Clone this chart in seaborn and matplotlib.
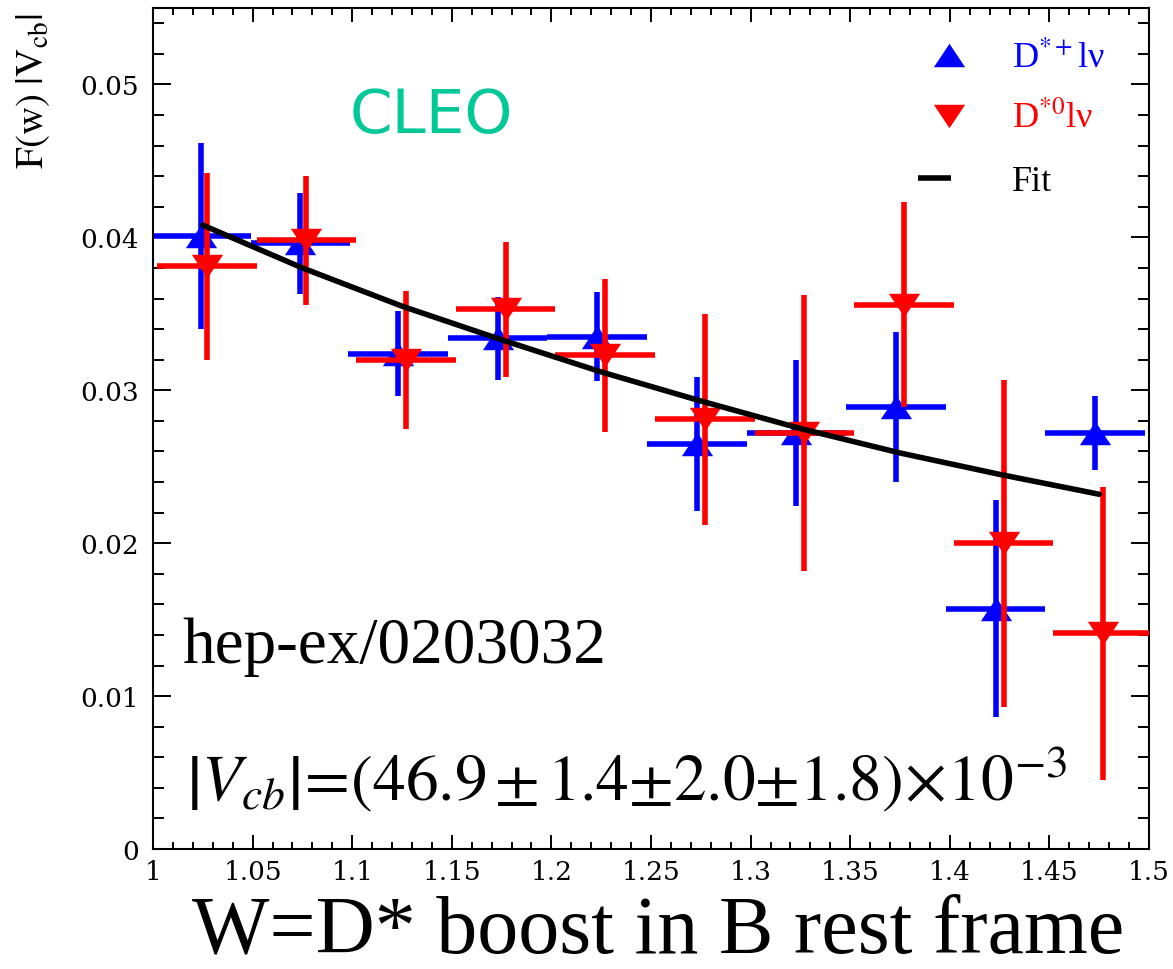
import matplotlib
matplotlib.use("Agg")
import matplotlib.pyplot as plt
import pandas as pd
import seaborn as sns
from matplotlib.ticker import MultipleLocator, FuncFormatter

# F(w)|Vcb| per w bin, B -> D*+ l nu
w_charged = [1.024, 1.074, 1.123, 1.173, 1.223, 1.273, 1.323, 1.373, 1.423, 1.473]
f_charged = [0.0401, 0.0396, 0.0324, 0.0334, 0.0335, 0.0265, 0.0272, 0.0289, 0.0157, 0.0272]
err_charged = [0.0061, 0.0033, 0.0028, 0.0027, 0.0029, 0.0044, 0.0048, 0.0049, 0.0071, 0.0024]

# F(w)|Vcb| per w bin, B -> D*0 l nu
w_neutral = [1.027, 1.077, 1.127, 1.177, 1.227, 1.277, 1.327, 1.377, 1.427, 1.477]
f_neutral = [0.0381, 0.0398, 0.0320, 0.0353, 0.0323, 0.0281, 0.0272, 0.0356, 0.0200, 0.0141]
err_neutral = [0.0061, 0.0042, 0.0045, 0.0044, 0.0050, 0.0069, 0.0090, 0.0067, 0.0107, 0.0096]

# half width of each w bin
bin_half = [0.025, 0.025, 0.025, 0.025, 0.025, 0.025, 0.025, 0.025, 0.025, 0.025]

# fitted form factor curve
fit_w = [1.025, 1.075, 1.125, 1.175, 1.225, 1.275, 1.325, 1.375, 1.425, 1.475]
fit_f = [0.0408, 0.0380, 0.0355, 0.0333, 0.0312, 0.0293, 0.0275, 0.0259, 0.0245, 0.0232]

legend_labels = [r"D$^{*+}$lν", r"D$^{*0}$lν", "Fit"]

sns.set_theme(style="ticks")
plt.rcParams["font.family"] = ["Liberation Serif", "DejaVu Serif"]
plt.rcParams["mathtext.fontset"] = "stix"

BLUE = "#0000ff"
RED = "#ff0000"
TEAL = "#00c896"

fig = plt.figure(figsize=(11.73, 9.70), dpi=100)
ax = fig.add_axes([153 / 1173, 1 - 850 / 970, 996 / 1173, 841 / 970])

charged = pd.DataFrame({"w": w_charged, "f": f_charged, "err": err_charged, "dw": bin_half})
neutral = pd.DataFrame({"w": w_neutral, "f": f_neutral, "err": err_neutral, "dw": bin_half})

tri_up = [(-1, -0.75), (1, -0.75), (0, 0.75)]
tri_down = [(-1, 0.75), (1, 0.75), (0, -0.75)]
msize = 22.5 ** 2
lw_err = 4.0

for df, col, mk, z in [(charged, BLUE, tri_up, 2), (neutral, RED, tri_down, 4)]:
    ax.errorbar(df["w"], df["f"], yerr=df["err"], xerr=df["dw"], fmt="none",
                ecolor=col, elinewidth=lw_err, capsize=0, zorder=z)
    sns.scatterplot(data=df, x="w", y="f", marker=mk, s=msize, color=col,
                    linewidth=0, ax=ax, zorder=z + 0.5)

fit_df = pd.DataFrame({"w": fit_w, "f": fit_f})
sns.lineplot(data=fit_df, x="w", y="f", color="black", linewidth=4.0, ax=ax,
             zorder=8, sort=True)

ax.set_xlim(1.0, 1.5)
ax.set_ylim(0, 0.055)
ax.set_xlabel("")
ax.set_ylabel("")

ax.xaxis.set_major_locator(MultipleLocator(0.05))
ax.xaxis.set_minor_locator(MultipleLocator(0.01))
ax.yaxis.set_major_locator(MultipleLocator(0.01))
ax.yaxis.set_minor_locator(MultipleLocator(0.002))
fmt = FuncFormatter(lambda v, pos: f"{v:g}")
ax.xaxis.set_major_formatter(fmt)
ax.yaxis.set_major_formatter(fmt)

ax.tick_params(which="both", direction="in", top=True, right=True, width=1.4,
               colors="black", labelsize=19, labelfontfamily="DejaVu Serif")
ax.tick_params(axis="y", which="major", length=13, pad=10)
ax.tick_params(axis="y", which="minor", length=8)
ax.tick_params(axis="x", which="major", length=10, pad=7)
ax.tick_params(axis="x", which="minor", length=5)
for sp in ax.spines.values():
    sp.set_visible(True)
    sp.set_linewidth(1.5)
    sp.set_color("black")

# legend entries
ax.scatter([0.7992], [0.9441], marker=tri_up, s=msize, color=BLUE, linewidth=0,
           transform=ax.transAxes, zorder=9)
ax.scatter([0.7992], [0.8716], marker=tri_down, s=msize, color=RED, linewidth=0,
           transform=ax.transAxes, zorder=9)
ax.plot([0.7681, 0.8012], [0.7979, 0.7979], color="black", linewidth=4.0,
        transform=ax.transAxes, solid_capstyle="butt", zorder=9)
for lab, col, yb in zip(legend_labels, [BLUE, RED, "black"], [0.9298, 0.8585, 0.7836]):
    ax.text(0.8624, yb, lab, color=col, fontsize=26, va="baseline", ha="left",
            transform=ax.transAxes)

# annotations
fig.text(350 / 1173, 1 - 133 / 970, "CLEO", color=TEAL, fontsize=44,
         family="DejaVu Sans", va="baseline", ha="left")
fig.text(182 / 1173, 1 - 663 / 970, "hep-ex/0203032", color="black", fontsize=47,
         va="baseline", ha="left")
fig.text(186 / 1173, 1 - 800 / 970,
         r"$\left|V_{cb}\right|\!=\!(46.9\,{\pm}\,1.4{\pm}2.0{\pm}1.8)\!\times\!10^{-3}$",
         color="black", fontsize=47, va="baseline", ha="left")

# axis titles
fig.text(192 / 1173, 1 - 953 / 970, "W=D* boost in B rest frame", color="black",
         fontsize=59, va="baseline", ha="left")
fig.text(33 / 1173, 1 - 13 / 970, r"$\mathrm{F(w)\ |V_{cb}|}$", color="black",
         fontsize=28, rotation=90, ha="center", va="top")

fig.savefig("out.png", dpi=100, facecolor="white")
